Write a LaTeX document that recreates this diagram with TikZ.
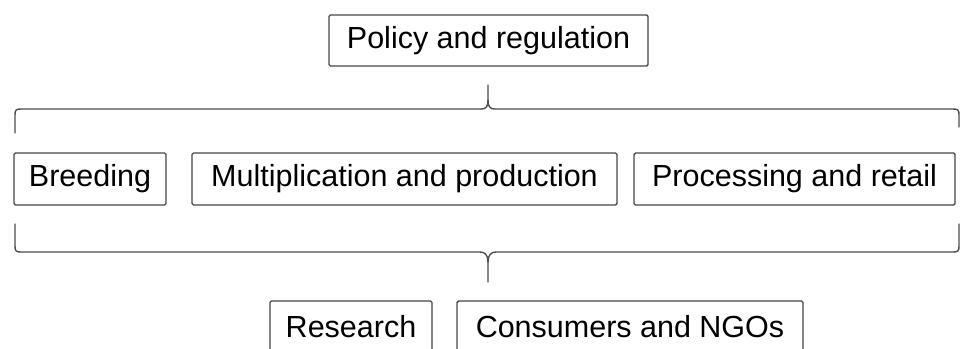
\documentclass[tikz,border=0pt]{standalone}
\usepackage{fontspec}
\setmainfont{Liberation Sans}
\begin{document}
\begin{tikzpicture}[x=1pt,y=-1pt,
  box/.style={draw=black!72, line width=1.4pt, rounded corners=1.5pt, inner sep=0pt,
    minimum height=51pt, font=\fontsize{30.5}{36}\selectfont, text=black},
  brace/.style={draw=black!70, line width=1.4pt, line cap=round, line join=round}]
\useasboundingbox (0,0) rectangle (960,348);
\fill[white] (0,0) rectangle (960,348);
\clip (0,0) rectangle (960,348);
\node[box, minimum width=319pt] (policy) at (488.5,40.5) {Policy and regulation};
\node[box, minimum width=152pt, minimum height=52pt] (breed) at (90,179) {Breeding};
\node[box, minimum width=425pt, minimum height=52pt] (multi) at (404.5,179) {Multiplication and production};
\node[box, minimum width=321pt, minimum height=52pt] (proc) at (794.5,179) {Processing and retail};
\node[box, minimum width=162pt, minimum height=52pt] (res) at (351,327) {Research};
\node[box, minimum width=346pt, minimum height=52pt] (cons) at (630,327) {Consumers and NGOs};
% top brace
\draw[brace] (15,133) -- (15,115) .. controls (15,110) and (16,109) .. (21,109) -- (481,109)
  .. controls (486,109) and (488,107) .. (488,100) -- (488,85);
\draw[brace] (488,100) .. controls (488,107) and (490,109) .. (495,109) -- (953,109)
  .. controls (958,109) and (959,110) .. (959,115) -- (959,127);
% bottom brace
\draw[brace] (15,224) -- (15,246) .. controls (15,251) and (16,252) .. (21,252) -- (480,252)
  .. controls (485,252) and (488,255) .. (488,262) -- (488,282);
\draw[brace] (488,262) .. controls (488,255) and (491,252) .. (496,252) -- (953,252)
  .. controls (958,252) and (959,251) .. (959,246) -- (959,224);
\end{tikzpicture}
\end{document}
